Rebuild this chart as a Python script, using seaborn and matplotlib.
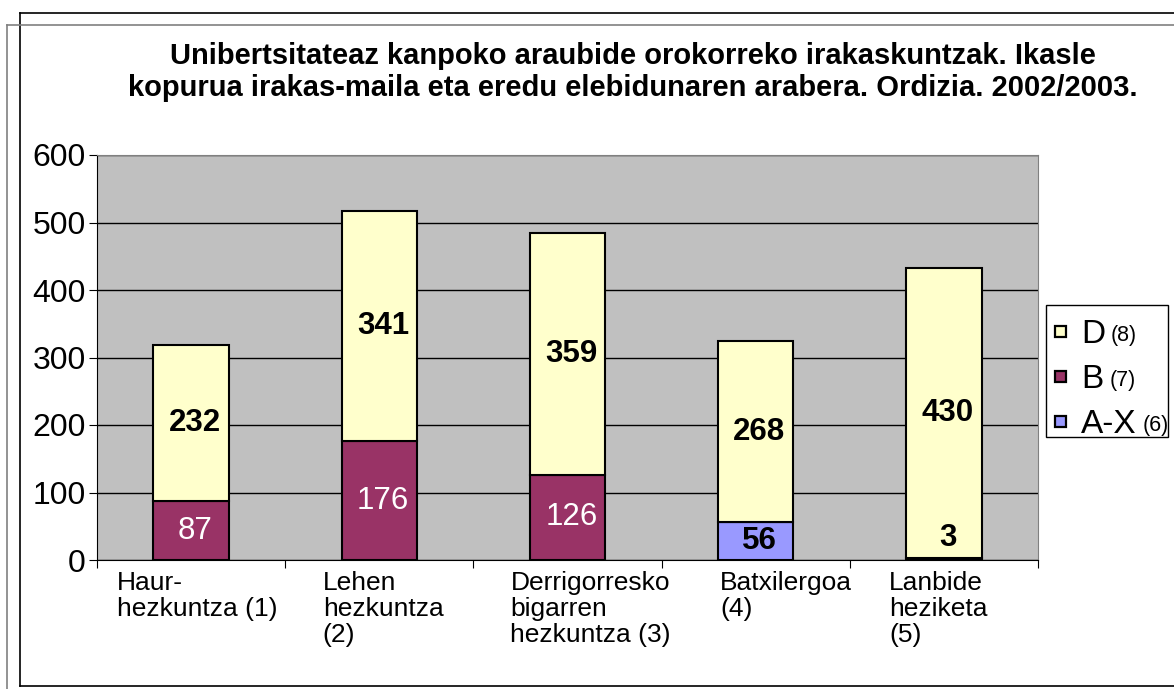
import numpy as np
import seaborn as sns
import matplotlib.pyplot as plt
from matplotlib.patches import Rectangle
from matplotlib.lines import Line2D

categories = ["Haur-\nhezkuntza (1)", "Lehen\nhezkuntza\n(2)", "Derrigorresko\nbigarren\nhezkuntza (3)",
              "Batxilergoa\n(4)", "Lanbide\nheziketa\n(5)"]
ax_vals = [0, 0, 0, 56, 3]      # A-X (6)
b_vals = [87, 176, 126, 0, 0]   # B (7)
d_vals = [232, 341, 359, 268, 430]  # D (8)
series_names = ["D", "B", "A-X"]
series_notes = ["(8)", "(7)", "(6)"]
colors = {"A-X": "#9999FF", "B": "#993366", "D": "#FFFFCC"}

title = ("Unibertsitateaz kanpoko araubide orokorreko irakaskuntzak. Ikasle\n"
         "kopurua irakas-maila eta eredu elebidunaren arabera. Ordizia. 2002/2003.")

plt.rcParams['font.family'] = ['Liberation Sans', 'DejaVu Sans']

W, H = 1174, 689
fig = plt.figure(figsize=(W/100, H/100), dpi=100)
ax = fig.add_axes([97/W, 1-560/H, (1038-97)/W, (560-155)/H])
ax.set_facecolor("#C0C0C0")

bottom_b = np.array(ax_vals)
bottom_d = bottom_b + np.array(b_vals)
common = dict(x=categories, order=categories, width=0.4, edgecolor="black", linewidth=1.5, ax=ax, zorder=3)
sns.barplot(y=ax_vals, color=colors["A-X"], saturation=1, **common)
sns.barplot(y=b_vals, bottom=bottom_b, color=colors["B"], saturation=1, **common)
sns.barplot(y=d_vals, bottom=bottom_d, color=colors["D"], saturation=1, **common)

# value labels
for i in range(len(categories)):
    for vals, base, col, wt in [(ax_vals, [0]*5, "black", "bold"),
                                (b_vals, bottom_b, "white", "normal"),
                                (d_vals, bottom_d, "black", "bold")]:
        v = vals[i]
        if v == 0:
            continue
        yy = base[i] + v / 2 if v > 20 else base[i] + v + 30
        ax.text(i + 0.02, yy, str(v), ha="center", va="center", fontsize=22.5,
                color=col, fontweight=wt, zorder=5)

ax.set_ylim(0, 600)
ax.set_xlim(-0.5, 4.5)
ax.set_yticks(range(0, 601, 100))
ax.yaxis.grid(True, color="black", linewidth=1, zorder=1)
ax.set_axisbelow(True)
ax.tick_params(axis="y", labelsize=23, length=6, direction="out", pad=2)
ax.set_xticks(np.arange(-0.5, 4.6, 1))
ax.set_xticklabels([])
# category labels, left aligned inside each category slot
label_offsets = [0.106, 0.2, 0.197, 0.31, 0.21]
ax.set_xticks([i - 0.5 + o for i, o in enumerate(label_offsets)], minor=True)
ax.set_xticklabels(categories, minor=True, fontsize=19, ha="left",
                   multialignment="left", va="top", linespacing=1.1)
ax.tick_params(axis="x", which="minor", length=0, pad=8)
ax.tick_params(axis="x", which="major", length=6, direction="out")
ax.set_xlabel("")
ax.set_ylabel("")
for s in ["top", "right"]:
    ax.spines[s].set_color("#808080")
for s in ["left", "bottom"]:
    ax.spines[s].set_color("black")

fig.text(633/W, 1-72/H, title, ha="center", va="center", fontsize=21,
         fontweight="bold", linespacing=1.15)

# legend box drawn by hand (mixed font sizes in each entry)
fig.add_artist(Rectangle((1046/W, 1-437/H), (1168-1046)/W, (437-305)/H,
                         facecolor="white", edgecolor="black", linewidth=1,
                         transform=fig.transFigure))
row_y = [331, 376, 421]
note_x = [1111, 1110, 1143]
for name, note, yy, nx in zip(series_names, series_notes, row_y, note_x):
    fig.add_artist(Rectangle((1055/W, 1-(yy+6)/H), 11/W, 11/H, facecolor=colors[name],
                             edgecolor="black", linewidth=1.6, transform=fig.transFigure))
    fig.text(1081/W, 1-yy/H, name, fontsize=24, ha="left", va="center_baseline")
    fig.text(nx/W, 1-(yy+2)/H, note, fontsize=15.5, ha="left", va="center_baseline")

# double frame around the chart
fig.add_artist(Line2D([20/W, 1], [1-13/H, 1-13/H], color="black", lw=1.2))
fig.add_artist(Line2D([20/W, 20/W], [1-13/H, 3/H], color="black", lw=1.2))
fig.add_artist(Line2D([20/W, 1], [3/H, 3/H], color="black", lw=1.2))
fig.add_artist(Line2D([7/W, 1], [1-25/H, 1-25/H], color="#808080", lw=1.2))
fig.add_artist(Line2D([7/W, 7/W], [1-25/H, 0], color="#808080", lw=1.2))

fig.savefig("out.png", dpi=100)
